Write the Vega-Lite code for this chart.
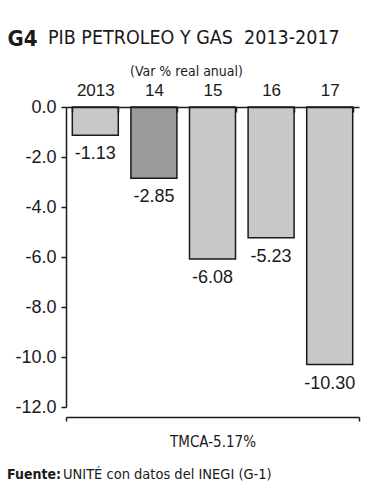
{
  "$schema": "https://vega.github.io/schema/vega-lite/v6.json",
  "width": 293,
  "height": 300,
  "autosize": {"type": "none"},
  "padding": {"left": 66, "top": 107, "right": 24, "bottom": 93},
  "background": "#ffffff",
  "config": {
    "view": {"stroke": null},
    "font": "Liberation Sans",
    "locale": {"number": {"decimal": ".", "thousands": ",", "grouping": [3], "currency": ["$", ""], "minus": "-"}}
  },
  "title": {
    "text": "PIB PETROLEO Y GAS \u00a02013-2017",
    "anchor": "start",
    "frame": "group",
    "font": "DejaVu Sans Condensed",
    "fontSize": 19.5,
    "fontWeight": "normal",
    "color": "#1a1a1a",
    "baseline": "alphabetic",
    "dx": -18,
    "dy": 44,
    "offset": 8
  },
  "datasets": {
    "pib": [
      {"anio": "2013", "variacion": -1.13, "grupo": "base"},
      {"anio": "14", "variacion": -2.85, "grupo": "destacado"},
      {"anio": "15", "variacion": -6.08, "grupo": "base"},
      {"anio": "16", "variacion": -5.23, "grupo": "base"},
      {"anio": "17", "variacion": -10.30, "grupo": "base"}
    ],
    "tmca": [{"periodo": "TMCA-5.17%"}],
    "fuente": [{"etiqueta": "Fuente:", "texto": "UNITÉ con datos del INEGI (G-1)"}]
  },
  "layer": [
    {
      "data": {"name": "pib"},
      "layer": [
        {
          "mark": {"type": "bar", "stroke": "#1a1a1a", "strokeWidth": 1.5},
          "encoding": {
            "x": {
              "field": "anio",
              "type": "ordinal",
              "sort": null,
              "scale": {"paddingInner": 0.215, "paddingOuter": 0.1075},
              "axis": {
                "orient": "top",
                "title": "(Var % real anual)",
                "titleFont": "DejaVu Sans Condensed",
                "titleFontSize": 14,
                "titleFontWeight": "normal",
                "titleColor": "#1a1a1a",
                "titleX": 120,
                "titleY": -32,
                "titleAlign": "center",
                "titleBaseline": "alphabetic",
                "labelAngle": 0,
                "labelFontSize": 17,
                "labelColor": "#1a1a1a",
                "labelPadding": 13,
                "tickBand": "extent",
                "tickSize": -5,
                "tickWidth": 1.5,
                "tickColor": "#1a1a1a",
                "domainColor": "#1a1a1a",
                "domainWidth": 1.5,
                "zindex": 1
              }
            },
            "y": {
              "field": "variacion",
              "type": "quantitative",
              "scale": {"domain": [-12, 0], "nice": false},
              "axis": {
                "values": [0, -2, -4, -6, -8, -10, -12],
                "format": ".1f",
                "title": "G4",
                "titleAngle": 0,
                "titleX": -59,
                "titleY": -62,
                "titleAlign": "left",
                "titleBaseline": "alphabetic",
                "titleFont": "DejaVu Sans Condensed",
                "titleFontSize": 22,
                "titleFontWeight": "bold",
                "titleColor": "#1a1a1a",
                "labelFontSize": 18,
                "labelColor": "#1a1a1a",
                "labelPadding": 5,
                "tickSize": 5,
                "tickWidth": 1.5,
                "tickColor": "#1a1a1a",
                "domainColor": "#1a1a1a",
                "domainWidth": 1.5,
                "grid": false
              }
            },
            "color": {
              "field": "grupo",
              "type": "nominal",
              "scale": {"domain": ["base", "destacado"], "range": ["#c8c8c8", "#9a9a9a"]},
              "legend": null
            }
          }
        },
        {
          "mark": {"type": "text", "baseline": "top", "dy": 10, "fontSize": 18, "color": "#1a1a1a"},
          "encoding": {
            "x": {"field": "anio", "type": "ordinal", "sort": null},
            "y": {"field": "variacion", "type": "quantitative"},
            "text": {"field": "variacion", "type": "quantitative", "format": ".2f"}
          }
        }
      ]
    },
    {
      "data": {"name": "tmca"},
      "mark": {"type": "point", "opacity": 0},
      "encoding": {
        "x": {
          "field": "periodo",
          "type": "nominal",
          "scale": {"type": "band", "paddingInner": 0, "paddingOuter": 0},
          "axis": {
            "orient": "bottom",
            "offset": 10,
            "title": null,
            "labelAngle": 0,
            "labelFont": "DejaVu Sans Condensed",
            "labelFontSize": 15,
            "labelColor": "#1a1a1a",
            "labelPadding": 13,
            "tickBand": "extent",
            "tickSize": 4,
            "tickWidth": 1.5,
            "tickColor": "#1a1a1a",
            "domainColor": "#1a1a1a",
            "domainWidth": 1.5
          }
        }
      }
    },
    {
      "data": {"name": "fuente"},
      "mark": {"type": "text", "align": "left", "baseline": "middle", "dx": -205.5, "font": "DejaVu Sans Condensed", "fontSize": 14, "fontWeight": "bold", "color": "#1a1a1a"},
      "encoding": {
        "y": {"datum": -14.72},
        "text": {"field": "etiqueta"}
      }
    },
    {
      "data": {"name": "fuente"},
      "mark": {"type": "text", "align": "left", "baseline": "middle", "dx": -149.5, "font": "DejaVu Sans Condensed", "fontSize": 14.5, "fontWeight": "normal", "color": "#1a1a1a"},
      "encoding": {
        "y": {"datum": -14.72},
        "text": {"field": "texto"}
      }
    }
  ],
  "resolve": {"scale": {"x": "independent"}, "axis": {"x": "independent"}}
}
